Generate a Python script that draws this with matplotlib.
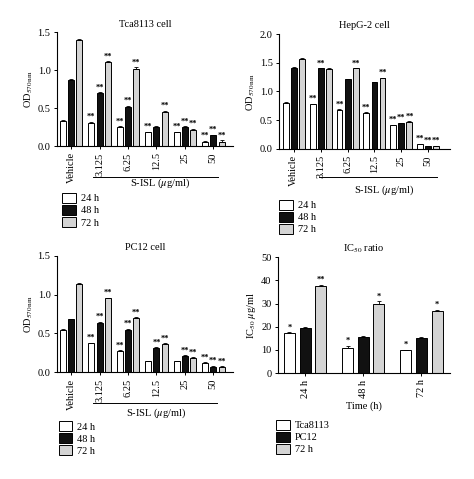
import matplotlib
matplotlib.use("Agg")
import matplotlib.pyplot as plt
import matplotlib.transforms as mtransforms
from matplotlib.patches import Patch
import numpy as np

plt.rcParams['font.family'] = ['Liberation Serif', 'DejaVu Serif']
plt.rcParams['mathtext.fontset'] = 'stix'

# Data
conc_labels = ["Vehicle", "3.125", "6.25", "12.5", "25", "50"]
time_labels = ["24 h", "48 h", "72 h"]

tca_24 = [0.33, 0.31, 0.25, 0.18, 0.18, 0.06]
tca_48 = [0.87, 0.70, 0.52, 0.25, 0.25, 0.14]
tca_72 = [1.39, 1.10, 1.02, 0.45, 0.21, 0.06]
tca_stars = [["", "", ""], ["**", "**", "**"], ["**", "**", "**"],
             ["**", "", "**"], ["**", "**", "**"], ["**", "**", "**"]]

hep_24 = [0.80, 0.78, 0.68, 0.63, 0.41, 0.08]
hep_48 = [1.41, 1.40, 1.21, 1.16, 0.45, 0.05]
hep_72 = [1.57, 1.39, 1.40, 1.23, 0.47, 0.05]
hep_stars = [["", "", ""], ["**", "**", ""], ["**", "", "**"],
             ["**", "", "**"], ["**", "**", "**"], ["**", "**", "**"]]

pc_24 = [0.55, 0.37, 0.27, 0.14, 0.14, 0.12]
pc_48 = [0.68, 0.64, 0.55, 0.31, 0.21, 0.07]
pc_72 = [1.14, 0.95, 0.70, 0.36, 0.18, 0.065]
pc_stars = [["", "", ""], ["**", "**", "**"], ["**", "**", "**"],
            ["", "**", "**"], ["", "**", "**"], ["**", "**", "**"]]

ic_groups = ["24 h", "48 h", "72 h"]
ic_labels = ["Tca8113", "PC12", "72 h"]
ic_tca = [17.2, 10.9, 9.8]
ic_pc = [19.4, 15.5, 15.2]
ic_72 = [37.5, 29.9, 27.0]
ic_err_tca = [0.5, 1.0, 0.3]
ic_err_pc = [0.3, 0.5, 0.3]
ic_err_72 = [0.6, 1.2, 0.3]
ic_stars = [["*", "", "**"], ["*", "", "*"], ["*", "", "*"]]

colors = ["white", "#111111", "#d4d4d4"]
FS = 7.5

fig = plt.figure(figsize=(4.74, 4.79), dpi=100)


def bar_panel(rect, series, stars, ylim, yticks, yfmt, title, xlim, width, offset,
              errs, star_gap, group_labels):
    ax = fig.add_axes(rect)
    x = np.arange(len(group_labels))
    for i, (vals, col) in enumerate(zip(series, colors)):
        xi = x + (i - 1) * offset
        ax.bar(xi, vals, width=width, color=col, edgecolor="black", linewidth=0.7, zorder=2)
        err = errs[i]
        ax.errorbar(xi, vals, yerr=[np.zeros(len(vals)), err], fmt="none", ecolor="black",
                    elinewidth=0.6, capsize=1.2, capthick=0.6, zorder=3)
        for j, v in enumerate(vals):
            s = stars[j][i]
            if s:
                ax.text(xi[j], v + err[j] + star_gap, s, ha="center", va="bottom",
                        fontsize=6, fontweight="bold")
    ax.set_xlim(*xlim)
    ax.set_ylim(*ylim)
    ax.set_yticks(yticks)
    ax.set_yticklabels([yfmt.format(t) for t in yticks], fontsize=FS)
    ax.set_xticks(x)
    ax.set_xticklabels(group_labels, rotation=90, fontsize=FS)
    ax.tick_params(axis="both", length=2.5, width=0.7, pad=2)
    for side in ["top", "right"]:
        ax.spines[side].set_visible(False)
    for side in ["left", "bottom"]:
        ax.spines[side].set_linewidth(0.8)
    ax.set_title(title, fontsize=FS, pad=4)
    return ax


def add_legend(ax, labels, anchor):
    handles = [Patch(facecolor=c, edgecolor="black", linewidth=0.7) for c in colors]
    ax.legend(handles, labels, loc="upper left", bbox_to_anchor=anchor, frameon=False,
              fontsize=FS, handlelength=1.3, handleheight=1.1, handletextpad=0.5,
              labelspacing=0.15, borderpad=0, borderaxespad=0)


def add_conc_line(ax, x0, x1, yl, yt, xt):
    trans = mtransforms.blended_transform_factory(ax.transData, ax.transAxes)
    ax.plot([x0, x1], [yl, yl], color="black", lw=0.7, transform=trans, clip_on=False)
    ax.text(xt, yt, r"S-ISL ($\mu$g/ml)", transform=trans, ha="center", va="center", fontsize=FS)


ylab = r"OD$_{570\,\mathrm{nm}}$"

# Tca8113
ax1 = bar_panel([0.120, 0.695, 0.372, 0.238], [tca_24, tca_48, tca_72], tca_stars,
                (0, 1.5), [0, 0.5, 1.0, 1.5], "{:.1f}", "Tca8113 cell", (-0.5, 5.7),
                0.21, 0.29, [[0.008] * 6, [0.01] * 6, [0.015] * 6], 0.01, conc_labels)
ax1.set_ylabel(ylab, fontsize=FS, labelpad=2)
add_conc_line(ax1, 0.77, 5.17, -0.272, -0.33, 3.13)
add_legend(ax1, time_labels, (0.03, -0.41))

# HepG-2
ax2 = bar_panel([0.589, 0.689, 0.360, 0.240], [hep_24, hep_48, hep_72], hep_stars,
                (0, 2.0), [0, 0.5, 1.0, 1.5, 2.0], "{:.1f}", "HepG-2 cell", (-0.54, 5.8),
                0.22, 0.30, [[0.01] * 6, [0.01] * 6, [0.01] * 6], 0.01, conc_labels)
ax2.set_ylabel(ylab, fontsize=FS, labelpad=2)
add_conc_line(ax2, 0.94, 5.32, -0.245, -0.36, 3.36)
add_legend(ax2, time_labels, (0.0, -0.44))

# PC12
ax3 = bar_panel([0.120, 0.223, 0.372, 0.243], [pc_24, pc_48, pc_72], pc_stars,
                (0, 1.5), [0, 0.5, 1.0, 1.5], "{:.1f}", "PC12 cell", (-0.5, 5.7),
                0.21, 0.29, [[0.01] * 6, [0.01] * 6, [0.01] * 6], 0.01, conc_labels)
ax3.set_ylabel(ylab, fontsize=FS, labelpad=2)
add_conc_line(ax3, 0.77, 5.14, -0.267, -0.35, 3.0)
add_legend(ax3, time_labels, (0.01, -0.42))

# IC50
ax4 = bar_panel([0.586, 0.221, 0.363, 0.242], [ic_tca, ic_pc, ic_72], ic_stars,
                (0, 50), [0, 10, 20, 30, 40, 50], "{:d}", r"IC$_{50}$ ratio", (-0.47, 2.49),
                0.19, 0.27, [ic_err_tca, ic_err_pc, ic_err_72], 0.3, ic_groups)
ax4.set_ylabel(r"IC$_{50}$ $\mu$g/ml", fontsize=FS, labelpad=2)
ax4.set_xlabel("Time (h)", fontsize=FS, labelpad=3)
add_legend(ax4, ic_labels, (-0.01, -0.4))

fig.savefig("out.png", dpi=100, facecolor="white")
